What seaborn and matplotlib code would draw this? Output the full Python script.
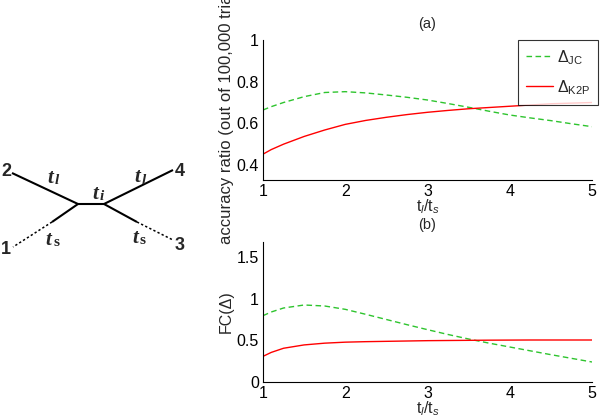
import numpy as np
import pandas as pd
import matplotlib
matplotlib.use("Agg")
import matplotlib.pyplot as plt
import seaborn as sns

sns.set_style("white")
plt.rcParams["font.family"] = ["Liberation Sans", "DejaVu Sans"]
plt.rcParams["mathtext.fontset"] = "custom"
plt.rcParams["mathtext.rm"] = "Liberation Sans"
plt.rcParams["mathtext.it"] = "Liberation Sans:italic"

# ratio t_l / t_s
ratio = [1.0, 1.1, 1.25, 1.5, 1.75, 2.0, 2.25, 2.5, 2.75, 3.0, 3.25, 3.5, 3.75,
         4.0, 4.25, 4.5, 4.75, 5.0]

# (a) accuracy ratio
acc_jc = [0.664, 0.680, 0.700, 0.728, 0.748, 0.752, 0.746, 0.736, 0.725, 0.712,
          0.695, 0.677, 0.658, 0.640, 0.626, 0.613, 0.598, 0.584]
acc_k2p = [0.452, 0.474, 0.500, 0.537, 0.568, 0.595, 0.614, 0.629, 0.642, 0.653,
           0.662, 0.670, 0.676, 0.682, 0.688, 0.694, 0.697, 0.700]

# (b) FC(Delta)
fc_jc = [0.796, 0.840, 0.888, 0.924, 0.912, 0.872, 0.812, 0.750, 0.688, 0.628,
         0.570, 0.516, 0.466, 0.420, 0.374, 0.328, 0.284, 0.240]
fc_k2p = [0.308, 0.355, 0.405, 0.445, 0.466, 0.478, 0.484, 0.488, 0.492, 0.496,
          0.498, 0.500, 0.502, 0.503, 0.504, 0.504, 0.504, 0.504]

series_names = ["$\\Delta_{\\mathrm{JC}}$", "$\\Delta_{\\mathrm{K2P}}$"]
series_colors = ["#2ec42e", "#ff0000"]

fig = plt.figure(figsize=(6, 4.2), dpi=100)

# ---- tree diagram (pixel coordinates) ----
tree = fig.add_axes([0, 0, 1, 1])
tree.set_xlim(0, 600)
tree.set_ylim(420, 0)
tree.axis("off")

solid_edges = [((12, 173), (78, 204)), ((78, 204), (104, 204)), ((104, 204), (173, 170)),
               ((78, 204), (52, 222)), ((104, 204), (137, 222))]
dotted_edges = [((52, 222), (13, 247)), ((137, 222), (173, 240))]
for a, b in solid_edges:
    tree.plot([a[0], b[0]], [a[1], b[1]], color="black", lw=1.5, solid_capstyle="butt")
for a, b in dotted_edges:
    tree.plot([a[0], b[0]], [a[1], b[1]], color="black", lw=1.1, ls=(0, (1.5, 1.5)))

leaf_labels = ["2", "4", "1", "3"]
leaf_pos = [(6, 172), (180, 171), (6, 250), (180, 246)]
for t, (x, y) in zip(leaf_labels, leaf_pos):
    tree.text(x, y, t, fontsize=13, fontweight="bold", ha="center", va="center")

branch_labels = ["l", "l", "i", "s", "s"]
branch_pos = [(50, 178), (137, 177), (95, 194), (48, 240), (135, 238)]
for sub, (x, y) in zip(branch_labels, branch_pos):
    tree.text(x, y, "t", fontsize=15, fontweight="bold", fontstyle="italic",
              family=["Liberation Serif"], ha="center", va="center")
    style = "normal" if sub == "s" else "italic"
    tree.text(x + 5, y + 3, sub, fontsize=11, fontweight="bold", fontstyle=style,
              family=["Liberation Serif"], ha="left", va="center")

# ---- plots ----
W, H = 600, 420
ax1 = fig.add_axes([263 / W, 1 - 180 / H, 329 / W, 140 / H])
ax2 = fig.add_axes([263 / W, 1 - 382 / H, 329 / W, 140 / H])

n = len(ratio)
df_a = pd.DataFrame({"ratio": ratio * 2, "value": acc_jc + acc_k2p,
                     "series": [series_names[0]] * n + [series_names[1]] * n})
df_b = pd.DataFrame({"ratio": ratio * 2, "value": fc_jc + fc_k2p,
                     "series": [series_names[0]] * n + [series_names[1]] * n})

palette = dict(zip(series_names, series_colors))
dashes = {series_names[0]: (4, 2.5), series_names[1]: ""}

for ax, df in [(ax1, df_a), (ax2, df_b)]:
    sns.lineplot(data=df, x="ratio", y="value", hue="series", style="series",
                 palette=palette, dashes=dashes, lw=1.0, ax=ax, legend=(ax is ax1))
    ax.set_xlim(1, 5)
    ax.set_xticks([1, 2, 3, 4, 5])
    ax.set_xticklabels(["1", "2", "3", "4", "5"])
    ax.tick_params(direction="in", length=3, labelsize=11.5, width=0.8, colors="black",
                   pad=3)
    for s in ["top", "right"]:
        ax.spines[s].set_visible(False)
    for s in ["left", "bottom"]:
        ax.spines[s].set_color("black")
        ax.spines[s].set_linewidth(0.8)
    ax.set_xlabel("t$_l$/t$_s$", fontsize=11.5, labelpad=-1)

ax1.set_ylim(0.328, 1.0)
ax1.set_yticks([0.4, 0.6, 0.8, 1.0])
ax1.set_yticklabels(["0.4", "0.6", "0.8", "1"])
ax1.set_ylabel("accuracy ratio (out of 100,000 trials)", fontsize=12, labelpad=2)
ax1.set_title("(a)", fontsize=10.5, pad=9)

ax2.set_ylim(0, 1.68)
ax2.set_yticks([0, 0.5, 1.0, 1.5])
ax2.set_yticklabels(["0", "0.5", "1", "1.5"])
ax2.set_ylabel("FC(Δ)", fontsize=11.5, labelpad=2)
ax2.set_title("(b)", fontsize=10.5, pad=9)

leg = ax1.legend(loc="upper right", bbox_to_anchor=(598 / W, 1 - 40 / H),
                 bbox_transform=fig.transFigure, fontsize=11.5, frameon=True,
                 fancybox=False, handlelength=1.7, handletextpad=0.2,
                 borderpad=0.5, labelspacing=0.7, borderaxespad=0)
leg.get_frame().set_edgecolor("black")
leg.get_frame().set_linewidth(0.8)
leg.set_title(None)

fig.savefig("out.png", dpi=100)
